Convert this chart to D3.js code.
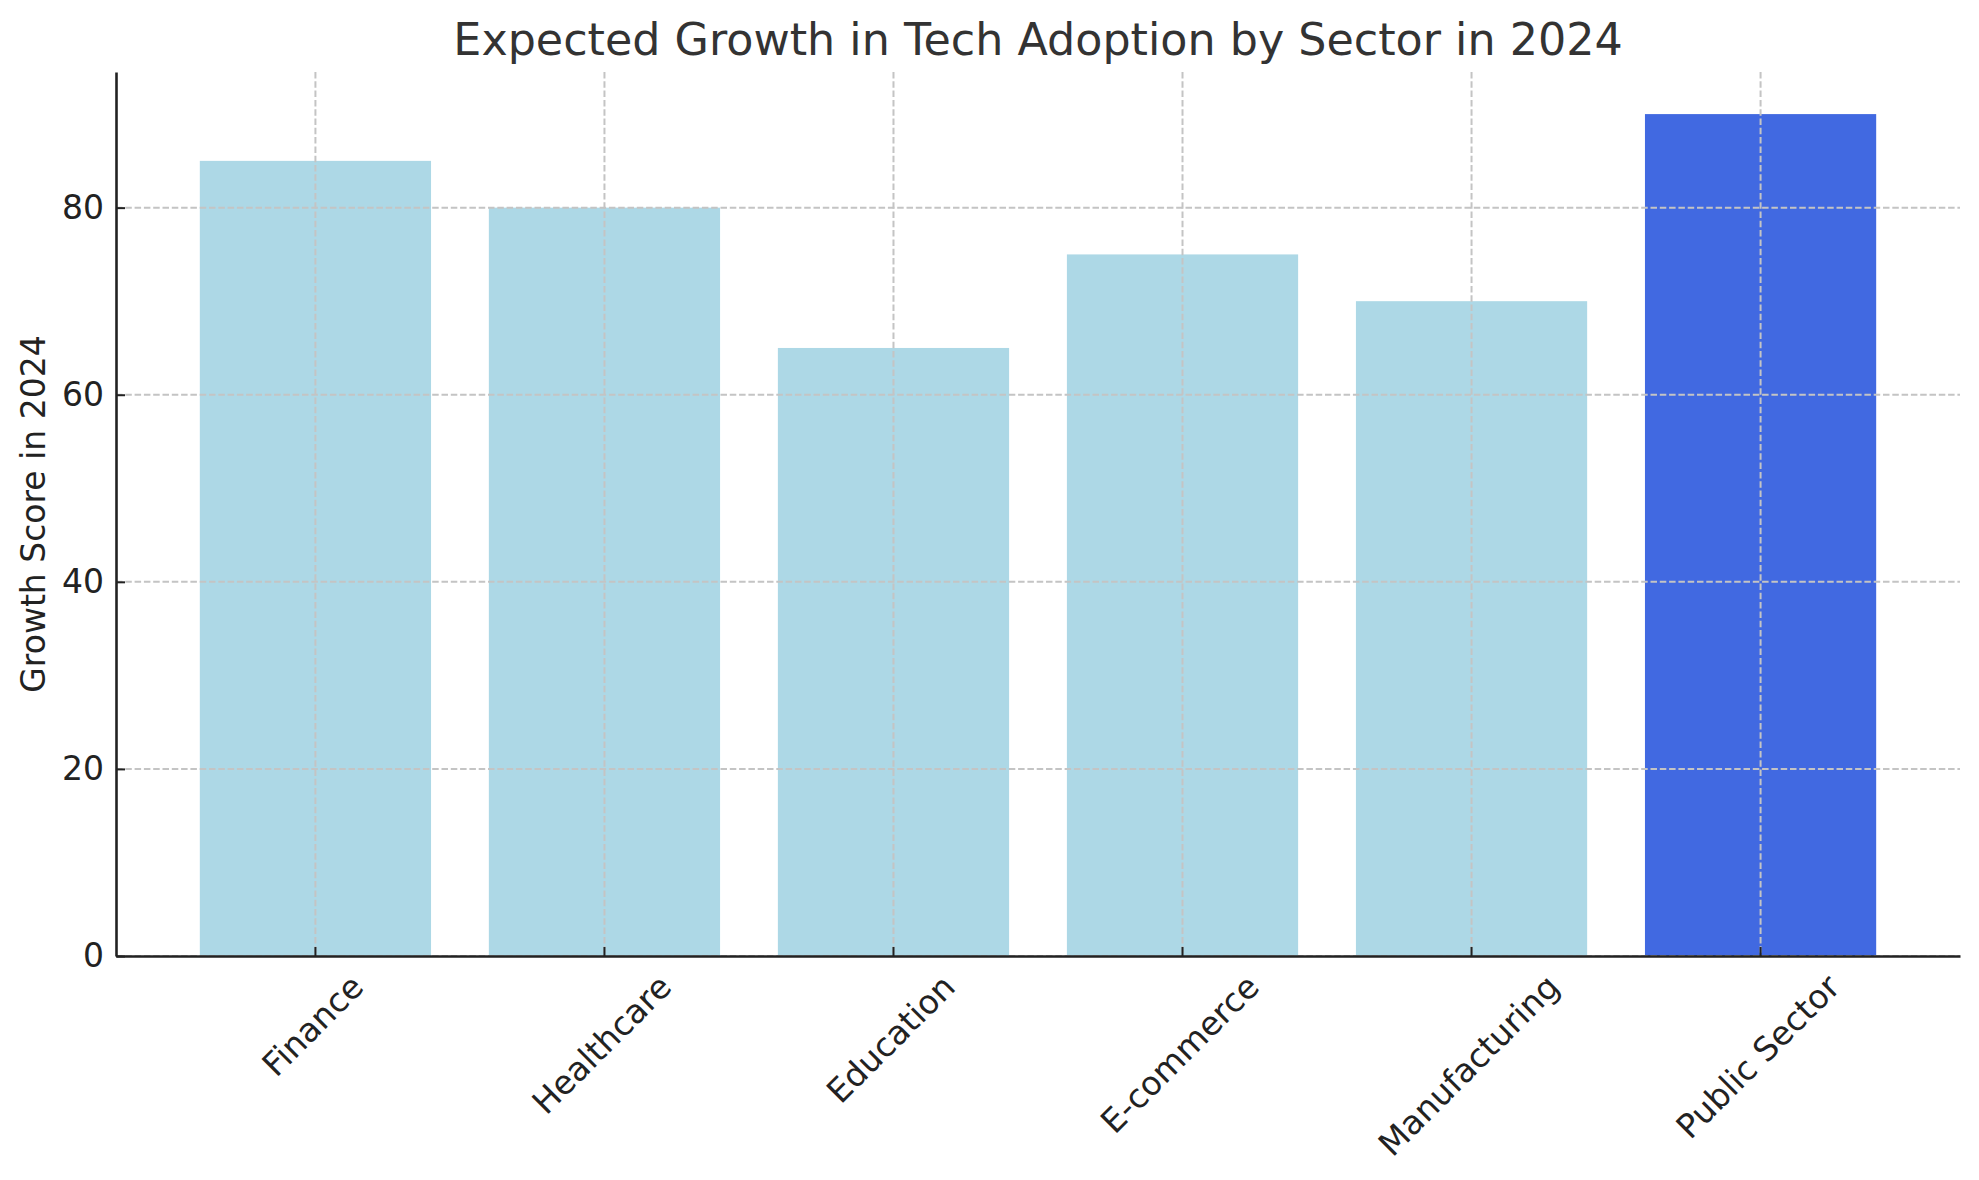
<!DOCTYPE html>
<html>
<head>
<meta charset="utf-8">
<script src="https://cdn.jsdelivr.net/npm/d3@7"></script>
<style>
  body { margin: 0; background: #fff; }
  svg { display: block; font-family: 'DejaVu Sans', sans-serif; }
</style>
</head>
<body>
<svg id="chart" width="1979" height="1180"></svg>
<script>
// Data
const sectors = ['Finance', 'Healthcare', 'Education', 'E-commerce', 'Manufacturing', 'Public Sector']
const growthScores = [85, 80, 65, 75, 70, 90]
const yTicks = [0, 20, 40, 60, 80]
const highlighted = 'Public Sector'

const baseColor = '#add8e6'
const highlightColor = '#4169e1'
const tickFont = 33
const margin = { left: 116, right: 19, top: 72, bottom: 224 }
const width = 1979 - margin.left - margin.right
const height = 1180 - margin.top - margin.bottom

const svg = d3.select('#chart')
const g = svg.append('g')
  .attr('transform', 'translate(' + margin.left + ',' + margin.top + ')')

// band layout mimicking matplotlib: bar width 0.8, 5% margins on the data range
const xScale = d3.scaleBand()
  .domain(sectors)
  .range([0, width])
  .paddingInner(0.2)
  .paddingOuter(0.29)

const yScale = d3.scaleLinear()
  .domain([0, d3.max(growthScores) * 1.05])
  .range([height, 0])

// bars
g.selectAll('rect.bar')
  .data(sectors)
  .join('rect')
  .attr('class', 'bar')
  .attr('x', d => xScale(d))
  .attr('width', xScale.bandwidth())
  .attr('y', (d, i) => yScale(growthScores[i]))
  .attr('height', (d, i) => height - yScale(growthScores[i]))
  .attr('fill', d => d === highlighted ? highlightColor : baseColor)

// dashed grid drawn over the bars
const grid = g.append('g').attr('class', 'grid')
grid.selectAll('line.h')
  .data(yTicks)
  .join('line')
  .attr('class', 'h')
  .attr('x1', 0)
  .attr('x2', width)
  .attr('y1', d => yScale(d))
  .attr('y2', d => yScale(d))
grid.selectAll('line.v')
  .data(sectors)
  .join('line')
  .attr('class', 'v')
  .attr('x1', d => xScale(d) + xScale.bandwidth() / 2)
  .attr('x2', d => xScale(d) + xScale.bandwidth() / 2)
  .attr('y1', 0)
  .attr('y2', height)
grid.selectAll('line')
  .attr('stroke', '#c4c4c4')
  .attr('stroke-width', 2)
  .attr('stroke-dasharray', '6.5,2.8')

// y axis
const yAxis = g.append('g')
  .attr('class', 'y axis')
  .call(d3.axisLeft(yScale).tickValues(yTicks).tickSize(-9).tickSizeOuter(0).tickPadding(12))
yAxis.selectAll('text')
  .attr('font-size', tickFont)
  .attr('fill', '#222')
  .attr('font-family', 'DejaVu Sans')

// x axis
const xAxis = g.append('g')
  .attr('class', 'x axis')
  .attr('transform', 'translate(0,' + height + ')')
  .call(d3.axisBottom(xScale).tickSize(-9).tickSizeOuter(0).tickPadding(0))

// rotated labels, bounding box centred under the tick like matplotlib
xAxis.selectAll('.tick text')
  .attr('font-size', tickFont)
  .attr('fill', '#222')
  .attr('font-family', 'DejaVu Sans')
  .attr('text-anchor', 'middle')
  .attr('dy', '0.36em')
  .attr('y', 0)
  .each(function () {
    const len = this.getComputedTextLength()
    const extent = (len + 0.73 * tickFont) / Math.SQRT2
    const cy = 16 + extent / 2
    d3.select(this).attr('transform', 'translate(-3,' + cy + ') rotate(-45)')
  })

svg.selectAll('.axis path.domain')
  .attr('stroke', '#222')
  .attr('stroke-width', 2.6)
svg.selectAll('.axis .tick line')
  .attr('stroke', '#222')
  .attr('stroke-width', 2)

// labels
svg.append('text')
  .text('Expected Growth in Tech Adoption by Sector in 2024')
  .attr('x', margin.left + width / 2)
  .attr('y', 55)
  .attr('text-anchor', 'middle')
  .attr('font-size', 44.4)
  .attr('fill', '#333')

svg.append('text')
  .text('Growth Score in 2024')
  .attr('transform', 'translate(45,' + (margin.top + height / 2) + ') rotate(-90)')
  .attr('text-anchor', 'middle')
  .attr('font-size', 33)
  .attr('fill', '#222')
</script>
</body>
</html>
